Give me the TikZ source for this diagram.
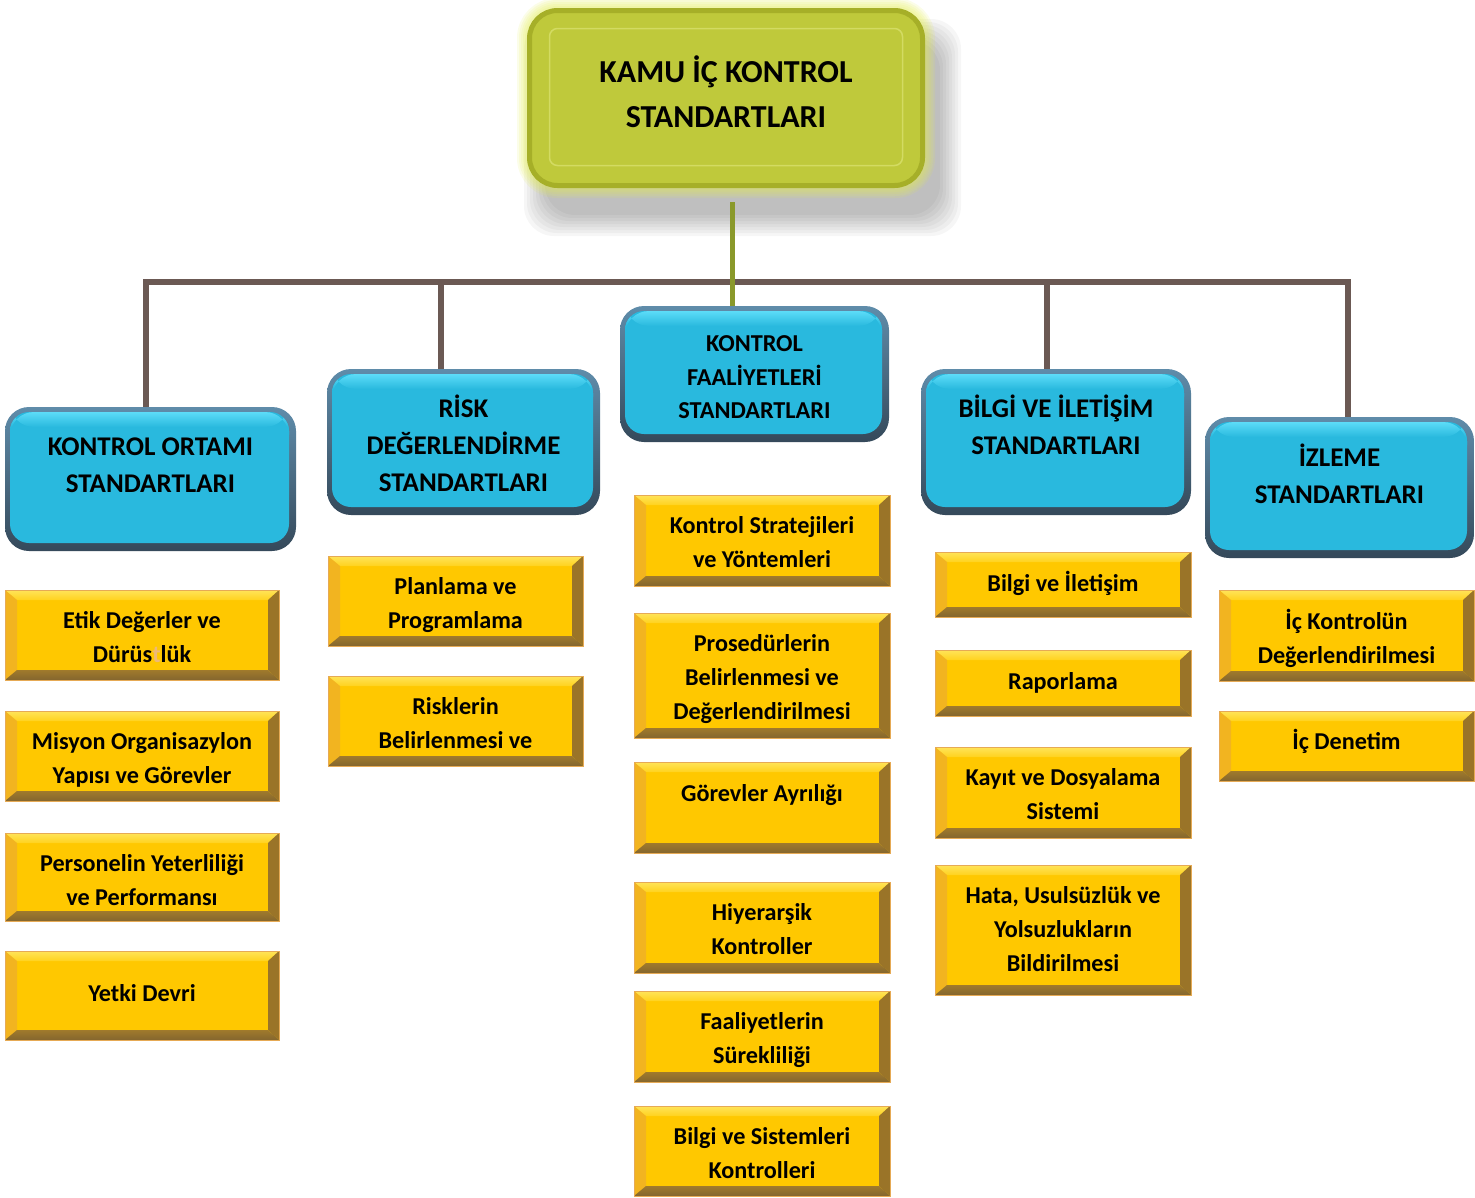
\documentclass[tikz,border=0pt]{standalone}
\usepackage{fontspec}
\setmainfont{Carlito}
\usetikzlibrary{positioning}

\definecolor{topfill}{HTML}{BFC93B}
\definecolor{topedge}{HTML}{A6AF28}
\definecolor{topinner}{HTML}{D3DB62}
\definecolor{glowc}{HTML}{E2EC50}
\definecolor{oline}{HTML}{8A992B}
\definecolor{busc}{HTML}{6B5954}
\definecolor{bmain}{HTML}{29B9DE}
\definecolor{blight}{HTML}{5CDCF8}
\definecolor{bedgeT}{HTML}{5F8CAA}
\definecolor{bedgeB}{HTML}{35495A}
\definecolor{ymid}{HTML}{FFC800}
\definecolor{ytopA}{HTML}{FFE45A}
\definecolor{ytopB}{HTML}{FFD21E}
\definecolor{ylft}{HTML}{F2B420}
\definecolor{yrgt}{HTML}{9A7428}
\definecolor{ybotA}{HTML}{A07A2C}
\definecolor{ybotB}{HTML}{84662E}
\definecolor{yline}{HTML}{E6AA55}
\definecolor{tfaint}{HTML}{EDB978}

\begin{document}
\begin{tikzpicture}[x=1pt, y=-1pt,
  ttext/.style={font=\fontsize{32}{45}\selectfont\bfseries, align=center, inner sep=0pt, execute at begin node={\rule{0pt}{1em}}},
  stext/.style={font=\fontsize{27}{37}\selectfont\bfseries, align=center, inner sep=0pt, execute at begin node={\rule{0pt}{1em}}},
  ctext/.style={font=\fontsize{24.3}{33.5}\selectfont\bfseries, align=center, inner sep=0pt, execute at begin node={\rule{0pt}{1em}}},
  ytext/.style={font=\fontsize{24.2}{34}\selectfont\bfseries, align=center, inner sep=0pt, execute at begin node={\rule{0pt}{1em}}},
  topbox/.style={rounded corners=28pt, fill=topfill, draw=topedge, line width=5pt,
    minimum width=393pt, minimum height=175pt,
    path picture={\draw[topinner, line width=1.5pt, rounded corners=8pt]
      ([shift={(20pt,-18pt)}]path picture bounding box.north west) rectangle
      ([shift={(-20pt,20pt)}]path picture bounding box.south east);}},
  sbox/.style 2 args={rounded corners=24pt, top color=bedgeT, bottom color=bedgeB,
    minimum width=#1, minimum height=#2,
    path picture={
      \fill[bmain, rounded corners=19pt]
        ([shift={(5pt,-5pt)}]path picture bounding box.north west) rectangle
        ([shift={(-7pt,8pt)}]path picture bounding box.south east);
      \begin{scope}
        \clip[rounded corners=19pt]
          ([shift={(5pt,-5pt)}]path picture bounding box.north west) rectangle
          ([shift={(-7pt,8pt)}]path picture bounding box.south east);
        \shade[top color=blight, bottom color=bmain]
          ([shift={(5pt,-5pt)}]path picture bounding box.north west) rectangle
          ([shift={(-7pt,-20pt)}]path picture bounding box.north east);
      \end{scope}}},
  ybox/.style 2 args={fill=ymid, draw=yline, line width=0.8pt,
    minimum width=#1, minimum height=#2,
    path picture={
      \coordinate (ya) at (path picture bounding box.north west);
      \coordinate (yb) at (path picture bounding box.north east);
      \coordinate (yc) at (path picture bounding box.south east);
      \coordinate (yd) at (path picture bounding box.south west);
      \shade[top color=ytopA, bottom color=ytopB] (ya) -- (yb) -- ([shift={(-10pt,-10pt)}]yb) -- ([shift={(10pt,-10pt)}]ya) -- cycle;
      \fill[ylft] (ya) -- ([shift={(12pt,-10pt)}]ya) -- ([shift={(12pt,10pt)}]yd) -- (yd) -- cycle;
      \fill[yrgt] (yb) -- (yc) -- ([shift={(-11pt,10pt)}]yc) -- ([shift={(-11pt,-10pt)}]yb) -- cycle;
      \shade[top color=ybotA, bottom color=ybotB] (yd) -- ([shift={(12pt,10pt)}]yd) -- ([shift={(-11pt,10pt)}]yc) -- (yc) -- cycle;}},
  bus/.style={busc, line width=6pt},
]
\useasboundingbox (0,0) rectangle (1475,1197);

% shadow and glow of the title box
\foreach \i in {0,...,7}
  \fill[black, opacity=0.035, rounded corners=30pt] (545-\i*3,40-\i*3) rectangle (940+\i*3,215+\i*3);
\foreach \w in {4,8,...,20}
  \draw[glowc, opacity=0.13, line width=\w pt, rounded corners=30pt] (527,8) rectangle (925,188);

% title
\node[topbox] (K) at (726,98) {};
\node[ttext, below=48pt of K.north] (Kt) {KAMU İÇ KONTROL\\STANDARTLARI};

% the five standards
\node[sbox={291pt}{144pt}] (S1) at (150.5,479) {};
\node[sbox={273pt}{146pt}] (S2) at (463.5,442) {};
\node[sbox={269pt}{136pt}] (S3) at (754.5,374) {};
\node[sbox={270pt}{146pt}] (S4) at (1056,442) {};
\node[sbox={269pt}{141pt}] (S5) at (1339.5,487.5) {};

\node[stext, below=31pt of S1.north] (S1t) {KONTROL ORTAMI\\STANDARTLARI};
\node[stext, below=26pt of S2.north] (S2t) {RİSK\\DEĞERLENDİRME\\STANDARTLARI};
\node[ctext, below=30pt of S3.north] (S3t) {KONTROL\\FAALİYETLERİ\\STANDARTLARI};
\node[stext, below=26pt of S4.north] (S4t) {BİLGİ VE İLETİŞİM\\STANDARTLARI};
\node[stext, below=27pt of S5.north] (S5t) {İZLEME\\STANDARTLARI};

% connectors
\coordinate (J) at (732,282);
\coordinate (K0) at ([yshift=-14pt]K.south);
\coordinate (d1) at (146,282);
\coordinate (d2) at (441,282);
\coordinate (d4) at (1047,282);
\coordinate (d5) at (1348,282);
\draw[bus] (d1 |- S1.north) -- (d1) -- (d5) -- (d5 |- S5.north);
\draw[bus] (d2) -- (d2 |- S2.north);
\draw[bus] (d4) -- (d4 |- S4.north);
\draw[oline, line width=5pt] (K0 -| J) -- (J |- S3.north);

% kontrol ortami
\node[ybox={274pt}{90pt}] (O1) at (142,635) {};
\node[ybox={274pt}{90pt}] (O2) at (142,756) {};
\node[ybox={274pt}{88pt}] (O3) at (142,877) {};
\node[ybox={274pt}{89pt}] (O4) at (142,995.5) {};
\node[ytext, below=22pt of O1.north] (O1t) {Etik Değerler ve\\Dürüs{\color{tfaint}t}lük};
\node[ytext, below=22pt of O2.north] (O2t) {Misyon Organisazylon\\Yapısı ve Görevler};
\node[ytext, below=22pt of O3.north] (O3t) {Personelin Yeterliliği\\ve Performansı};
\node[ytext, below=26pt of O4.north] (O4t) {Yetki Devri};

% risk
\node[ybox={255pt}{90pt}] (R1) at (455.5,601) {};
\node[ybox={255pt}{90pt}] (R2) at (455.5,721) {};
\node[ytext, below=22pt of R1.north] (R1t) {Planlama ve\\Programlama};
\node[ytext, below=22pt of R2.north] (R2t) {Risklerin\\Belirlenmesi ve};

% faaliyetler
\node[ybox={256pt}{91pt}] (F1) at (762,540.5) {};
\node[ybox={256pt}{125pt}] (F2) at (762,675.5) {};
\node[ybox={256pt}{91pt}] (F3) at (762,807.5) {};
\node[ybox={256pt}{91pt}] (F4) at (762,927.5) {};
\node[ybox={256pt}{91pt}] (F5) at (762,1036.5) {};
\node[ybox={256pt}{90pt}] (F6) at (762,1151) {};
\node[ytext, below=22pt of F1.north] (F1t) {Kontrol Stratejileri\\ve Yöntemleri};
\node[ytext, below=22pt of F2.north] (F2t) {Prosedürlerin\\Belirlenmesi ve\\Değerlendirilmesi};
\node[ytext, below=15pt of F3.north] (F3t) {Görevler Ayrılığı};
\node[ytext, below=22pt of F4.north] (F4t) {Hiyerarşik\\Kontroller};
\node[ytext, below=22pt of F5.north] (F5t) {Faaliyetlerin\\Sürekliliği};
\node[ytext, below=22pt of F6.north] (F6t) {Bilgi ve Sistemleri\\Kontrolleri};

% bilgi ve iletisim
\node[ybox={256pt}{65pt}] (B1) at (1063,584.5) {};
\node[ybox={256pt}{66pt}] (B2) at (1063,683) {};
\node[ybox={256pt}{91pt}] (B3) at (1063,792.5) {};
\node[ybox={256pt}{130pt}] (B4) at (1063,930) {};
\node[ytext, below=15pt of B1.north] (B1t) {Bilgi ve İletişim};
\node[ytext, below=15pt of B2.north] (B2t) {Raporlama};
\node[ytext, below=22pt of B3.north] (B3t) {Kayıt ve Dosyalama\\Sistemi};
\node[ytext, below=22pt of B4.north] (B4t) {Hata, Usulsüzlük ve\\Yolsuzlukların\\Bildirilmesi};

% izleme
\node[ybox={255pt}{91pt}] (I1) at (1346.5,635.5) {};
\node[ybox={255pt}{70pt}] (I2) at (1346.5,746) {};
\node[ytext, below=19pt of I1.north] (I1t) {İç Kontrolün\\Değerlendirilmesi};
\node[ytext, below=14pt of I2.north] (I2t) {İç Denetim};
\end{tikzpicture}
\end{document}
